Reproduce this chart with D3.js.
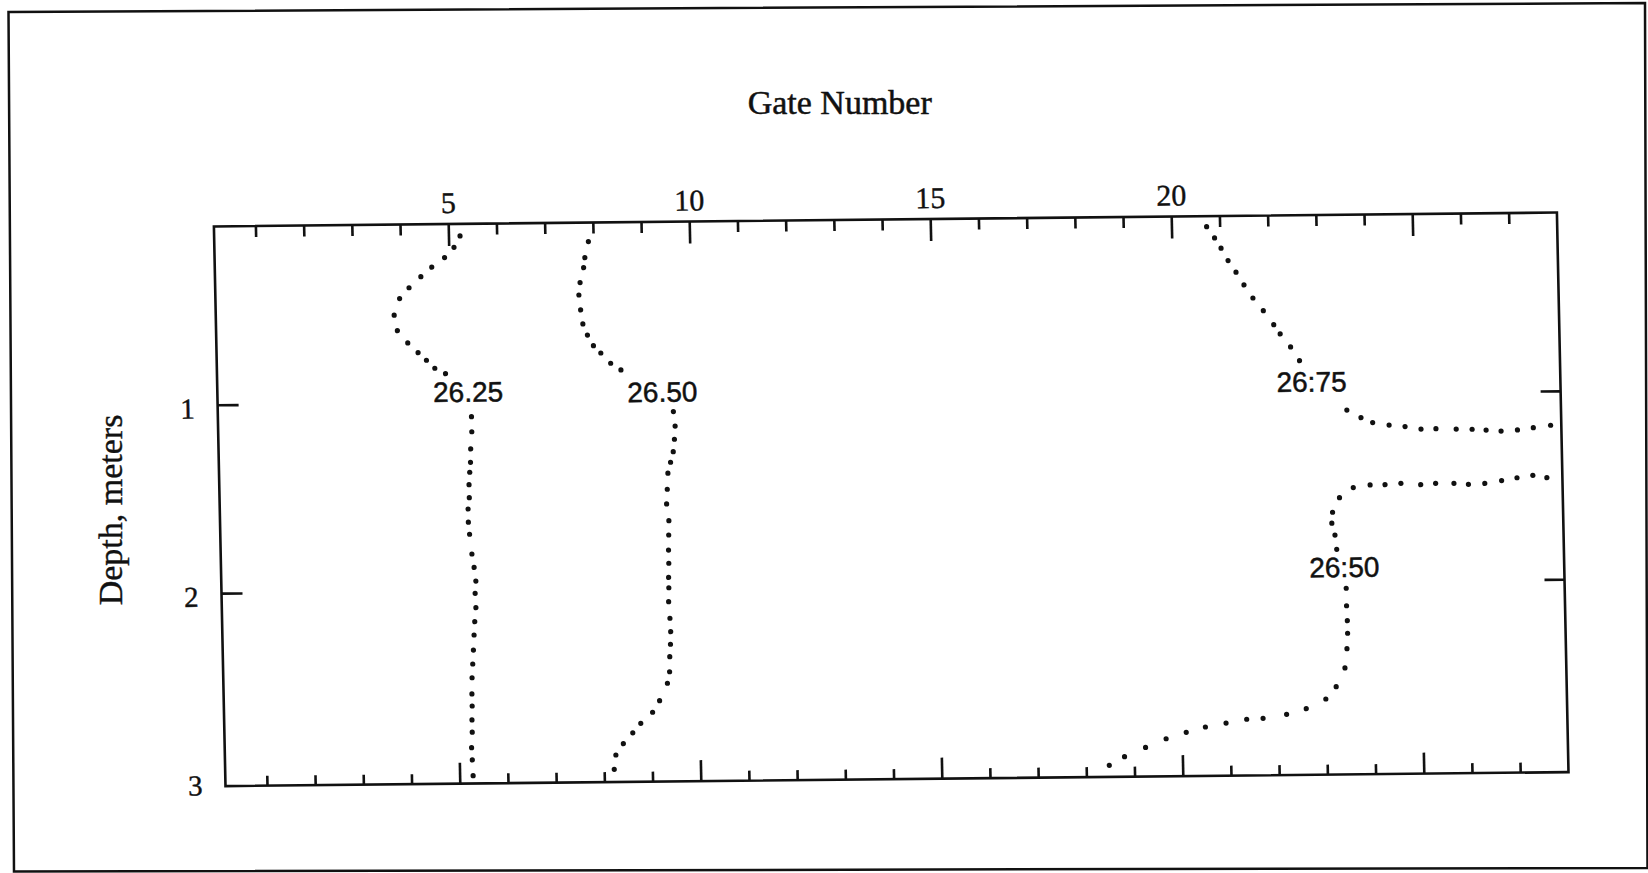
<!DOCTYPE html>
<html>
<head>
<meta charset="utf-8">
<script src="https://cdn.jsdelivr.net/npm/d3@7"></script>
<style>
  html, body { margin: 0; padding: 0; background: #fff; overflow: hidden; }
</style>
</head>
<body>
<svg id="chart" width="1648" height="873"></svg>
<script>
// ---------------- data ----------------
const minorGates = [1,2,3,4,6,7,8,9,11,12,13,14,16,17,18,19,21,22,23,24,26,27];
const majorGates = [5,10,15,20,25];
const topTickLabels = ["5","10","15","20",""];
const depthTickMarks = [1,2];
const depthLabels = [1,2,3];

// contour dots: [gate, depth]
const contour2625 = [
  [5.24,0.117],[5.11,0.177],[4.91,0.231],[4.64,0.281],[4.41,0.331],[4.16,0.389],[3.96,0.446],
  [3.84,0.534],[3.90,0.616],[4.11,0.682],[4.32,0.734],[4.49,0.775],[4.66,0.818],[4.88,0.847],
  [5.40,1.077],[5.40,1.157],[5.37,1.248],[5.36,1.319],[5.34,1.372],[5.32,1.438],[5.32,1.507],
  [5.29,1.567],[5.29,1.637],[5.31,1.701],[5.35,1.806],[5.39,1.877],[5.42,1.950],[5.40,2.015],
  [5.41,2.091],[5.38,2.165],[5.36,2.236],[5.34,2.316],[5.32,2.390],[5.30,2.463],[5.29,2.549],
  [5.29,2.613],[5.28,2.687],[5.28,2.752],[5.26,2.834],[5.27,2.899],[5.28,2.983]
];
const contour2650Left = [
  [7.90,0.154],[7.82,0.239],[7.79,0.292],[7.71,0.371],[7.68,0.437],[7.71,0.516],[7.75,0.591],
  [7.84,0.650],[7.96,0.707],[8.11,0.746],[8.31,0.801],[8.52,0.837],
  [9.59,1.061],[9.62,1.138],[9.60,1.208],[9.57,1.274],[9.51,1.330],[9.45,1.388],[9.43,1.473],
  [9.41,1.551],[9.45,1.640],[9.44,1.716],[9.43,1.796],[9.43,1.866],[9.42,1.941],[9.42,1.996],
  [9.41,2.070],[9.43,2.158],[9.44,2.229],[9.43,2.296],[9.41,2.362],[9.40,2.442],[9.35,2.503],
  [9.18,2.595],[9.03,2.656],[8.78,2.714],[8.61,2.764],[8.41,2.821],[8.25,2.881],[8.21,2.957]
];
const contour2675 = [
  [20.73,0.109],[20.89,0.169],[21.02,0.224],[21.16,0.290],[21.32,0.352],[21.48,0.420],[21.66,0.490],
  [21.87,0.558],[22.08,0.633],[22.21,0.682],[22.42,0.752],[22.60,0.825],
  [23.56,1.090],[23.85,1.131],[24.09,1.158],[24.43,1.172],[24.76,1.181],[25.09,1.195],[25.40,1.194],
  [25.82,1.197],[26.15,1.199],[26.44,1.204],[26.75,1.210],[27.09,1.205],[27.42,1.194],[27.78,1.182]
];
const contour2650Right = [
  [27.68,1.460],[27.39,1.447],[27.06,1.459],[26.74,1.473],[26.39,1.487],[26.05,1.491],[25.75,1.485],
  [25.37,1.484],[25.06,1.490],[24.65,1.482],[24.32,1.488],[24.01,1.489],[23.66,1.502],[23.37,1.555],
  [23.22,1.632],[23.20,1.690],[23.26,1.753],[23.29,1.829],
  [23.47,2.036],[23.47,2.129],[23.48,2.208],[23.48,2.275],[23.46,2.357],[23.41,2.459],[23.22,2.558],
  [23.00,2.623],[22.59,2.673],[22.18,2.702],[21.69,2.722],[21.35,2.726],[20.92,2.745],[20.49,2.765],
  [20.09,2.792],[19.67,2.825],[19.24,2.870],[18.80,2.918],[18.48,2.963]
];
const contourLabels = ["26.25","26.50","26:75","26:50"];
const labelGate = [5.34, 9.37, 22.84, 23.44];
const labelDepth = [0.944, 0.955, 0.937, 1.923];

// ---------------- layout ----------------
const ink = "#111";
const serif = "'Liberation Serif','Times New Roman',serif";
const sans = "'Liberation Sans',Arial,sans-serif";
const frame = {left: 219.7, right: 1562.7, top: 219.5, bottom: 779.1};
const x = d3.scaleLinear().domain([0, 28]).range([213, 1562.6]);
const y = d3.scaleLinear().domain([0, 3]).range([209.5, 774.5]);

const svg = d3.select("#chart");
svg.append("rect").attr("width", 1648).attr("height", 873).attr("fill", "#fff");

// outer page border (scanned, slightly tilted)
svg.append("path")
  .attr("d", "M8.5,12 L1645,3 L1647.5,868 L14,871.5 Z")
  .attr("fill", "none").attr("stroke", ink).attr("stroke-width", 2.5);

// titles
svg.append("text")
  .attr("x", 839.7).attr("y", 113.5)
  .attr("text-anchor", "middle")
  .attr("font-family", serif).attr("font-size", 34).attr("fill", ink)
  .attr("stroke", ink).attr("stroke-width", 0.5)
  .text("Gate Number");
svg.append("text")
  .attr("transform", "translate(122,510) rotate(-90)")
  .attr("text-anchor", "middle")
  .attr("font-family", serif).attr("font-size", 34).attr("fill", ink)
  .attr("stroke", ink).attr("stroke-width", 0.4)
  .text("Depth, meters");

// skewed plot group (mimics the slightly rotated scan)
const cx = 891.2, cy = 499.3;
const g = svg.append("g")
  .attr("transform", `translate(${cx},${cy}) matrix(1,-0.0104,0.0207,1,0,0) translate(${-cx},${-cy})`);

function styleAxis(sel) {
  sel.select(".domain").remove();
  sel.selectAll(".tick line").attr("stroke", ink).attr("stroke-width", 2.6);
  sel.selectAll(".tick text").attr("fill", ink).attr("stroke", ink).attr("stroke-width", 0.4);
  sel.attr("font-family", serif);
}

// top axis
g.append("g").attr("transform", `translate(0,${frame.top})`)
  .call(d3.axisTop(x).tickValues(minorGates).tickSize(-11).tickSizeOuter(0).tickFormat(""))
  .call(styleAxis);
g.append("g").attr("transform", `translate(0,${frame.top})`)
  .call(d3.axisTop(x).tickValues(majorGates).tickSize(-22).tickSizeOuter(0).tickPadding(11)
    .tickFormat((d, i) => topTickLabels[i]))
  .call(styleAxis)
  .attr("font-size", 30);

// bottom axis
g.append("g").attr("transform", `translate(0,${frame.bottom})`)
  .call(d3.axisBottom(x).tickValues(minorGates).tickSize(-10).tickSizeOuter(0).tickFormat(""))
  .call(styleAxis);
g.append("g").attr("transform", `translate(0,${frame.bottom})`)
  .call(d3.axisBottom(x).tickValues(majorGates).tickSize(-21).tickSizeOuter(0).tickFormat(""))
  .call(styleAxis);

// left axis
g.append("g").attr("transform", `translate(${frame.left},0)`)
  .call(d3.axisLeft(y).tickValues(depthTickMarks).tickSize(-21).tickSizeOuter(0).tickFormat(""))
  .call(styleAxis);
const leftLab = g.append("g").attr("transform", `translate(${frame.left},0)`)
  .call(d3.axisLeft(y).tickValues(depthLabels).tickSize(0).tickSizeOuter(0).tickPadding(23)
    .tickFormat(d3.format("d")))
  .call(styleAxis)
  .attr("font-size", 29);
leftLab.selectAll(".tick text").attr("dy", "0.45em");

// right axis
g.append("g").attr("transform", `translate(${frame.right},0)`)
  .call(d3.axisRight(y).tickValues(depthTickMarks).tickSize(-20).tickSizeOuter(0).tickFormat(""))
  .call(styleAxis);

// frame
g.append("rect")
  .attr("x", frame.left).attr("y", frame.top)
  .attr("width", frame.right - frame.left).attr("height", frame.bottom - frame.top)
  .attr("fill", "none").attr("stroke", ink).attr("stroke-width", 2.6);

// contour dots
const contours = [contour2625, contour2650Left, contour2675, contour2650Right];
contours.forEach(c => {
  g.append("g").selectAll("circle").data(c).join("circle")
    .attr("cx", d => x(d[0])).attr("cy", d => y(d[1]))
    .attr("r", 2.6).attr("fill", ink);
});

// contour labels
g.selectAll("text.clabel").data(contourLabels).join("text")
  .attr("class", "clabel")
  .attr("x", (d, i) => x(labelGate[i]))
  .attr("y", (d, i) => y(labelDepth[i]))
  .attr("dy", "0.36em")
  .attr("text-anchor", "middle")
  .attr("font-family", sans).attr("font-size", 28).attr("fill", ink)
  .attr("stroke", ink).attr("stroke-width", 0.5)
  .text(d => d);
</script>
</body>
</html>
